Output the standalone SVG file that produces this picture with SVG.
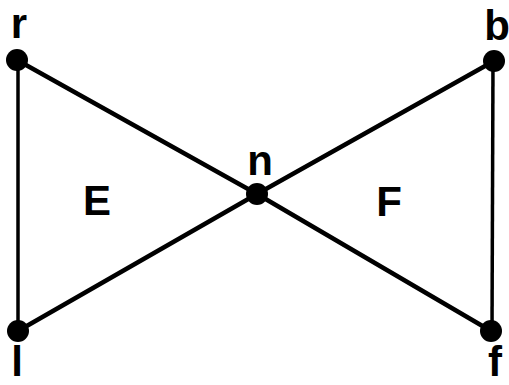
<svg xmlns="http://www.w3.org/2000/svg" width="509" height="385" viewBox="0 0 509 385">
<style>
.edge{stroke:#000;stroke-width:4.5;stroke-linecap:round;fill:none}
.side{stroke:#000;stroke-width:3.5;fill:none}
.dot{fill:#000}
.lbl{font-family:"Liberation Sans",Arial,sans-serif;font-weight:bold;font-size:42px;fill:#000;text-anchor:middle}
</style>
<rect width="509" height="385" fill="#fff"/>
<g id="connectors">
<line class="edge" x1="17" y1="60" x2="257" y2="194"/>
<line class="edge" x1="257" y1="194" x2="491" y2="331"/>
<line class="edge" x1="18" y1="331" x2="257" y2="194"/>
<line class="edge" x1="257" y1="194" x2="494" y2="61"/>
<line class="side" x1="18" y1="60" x2="18" y2="331"/>
<line class="side" x1="493" y1="61" x2="492" y2="331"/>
</g>
<g id="node-r"><circle class="dot" cx="17" cy="60" r="11"/><text class="lbl" x="19" y="38">r</text></g>
<g id="node-b"><circle class="dot" cx="494" cy="61" r="11"/><text class="lbl" x="497" y="40">b</text></g>
<g id="node-n"><circle class="dot" cx="257" cy="194" r="11"/><text class="lbl" x="260" y="175">n</text></g>
<g id="node-l"><circle class="dot" cx="18" cy="331" r="11"/><text class="lbl" x="17" y="376">l</text></g>
<g id="node-f"><circle class="dot" cx="491" cy="331" r="11"/><text class="lbl" x="495" y="376">f</text></g>
<g id="region-E"><text class="lbl" x="97" y="215">E</text></g>
<g id="region-F"><text class="lbl" x="389" y="216">F</text></g>
</svg>
